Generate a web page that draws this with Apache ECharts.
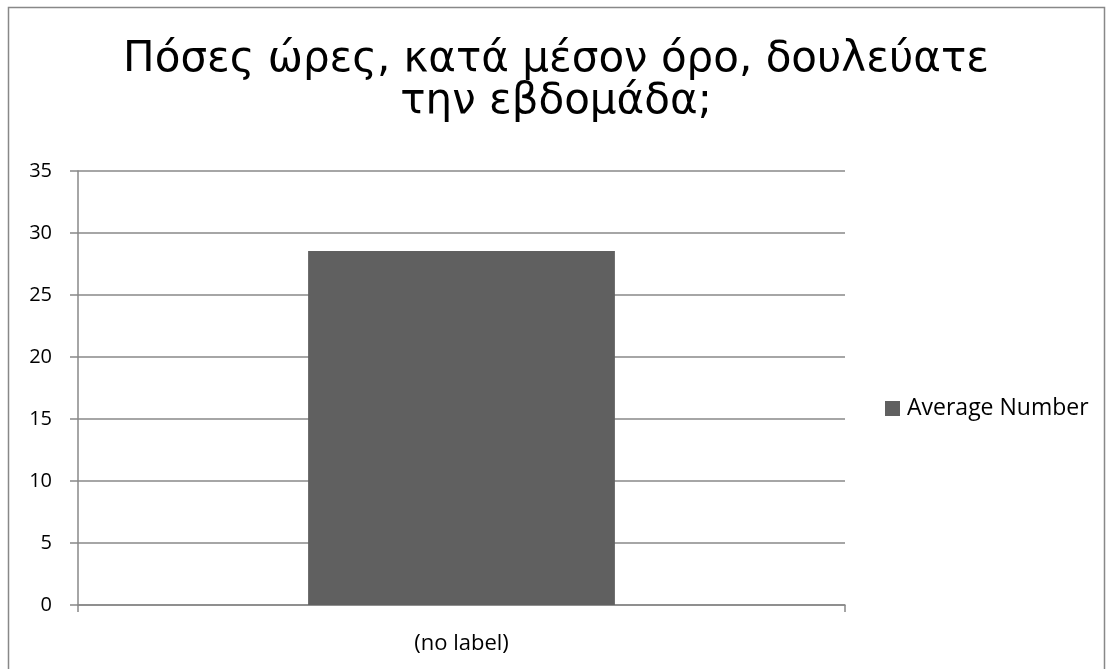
<!DOCTYPE html>
<html><head><meta charset="utf-8">
<script src="https://cdn.jsdelivr.net/npm/echarts@6/dist/echarts.min.js"></script>
<style>html,body{margin:0;padding:0;background:#fff}#c{width:1112px;height:669px}</style>
</head><body><div id="c"></div>
<script>
const titleText = 'Πόσες ώρες, κατά μέσον όρο, δουλεύατε\nτην εβδομάδα;';
const categories = ['(no label)'];
const seriesName = 'Average Number';
const values = [28.55];
const yMin = 0, yMax = 35, yStep = 5;

const chart = echarts.init(document.getElementById('c'), null, {renderer: 'canvas'});
chart.setOption({
  animation: false,
  backgroundColor: '#fff',
  graphic: [{type: 'rect', shape: {x: 8.5, y: 7.5, width: 1096, height: 700}, style: {fill: 'none', stroke: '#888', lineWidth: 1.5}, silent: true}],
  title: {
    text: titleText, left: 'center', top: 34, padding: [5, 5, 5, 19],
    textStyle: {fontFamily: 'DejaVu Sans', fontSize: 42, fontWeight: 'normal', color: '#000', lineHeight: 42}
  },
  legend: {
    data: [seriesName], left: 880, top: 392, icon: 'rect', itemWidth: 15, itemHeight: 15, itemGap: 5,
    textStyle: {fontFamily: 'Open Sans', fontSize: 23, color: '#000', padding: [0,0,0,2]}
  },
  grid: {left: 78, right: 267, top: 171, bottom: 64, containLabel: false},
  xAxis: {
    type: 'category', data: categories,
    axisLine: {lineStyle: {color: '#888', width: 1.5}},
    axisTick: {show: true, alignWithLabel: false, length: 7, lineStyle: {color: '#888', width: 1.5}},
    axisLabel: {fontFamily: 'Open Sans', fontSize: 22, color: '#000', margin: 28}
  },
  yAxis: {
    type: 'value', min: yMin, max: yMax, interval: yStep,
    axisLine: {show: true, lineStyle: {color: '#888', width: 1.5}},
    axisTick: {show: true, length: 8, lineStyle: {color: '#888', width: 1.5}},
    splitLine: {lineStyle: {color: '#888', width: 1.5}},
    axisLabel: {fontFamily: 'Open Sans', fontSize: 20, color: '#000', margin: 26}
  },
  series: [{
    name: seriesName, type: 'bar', data: values, barWidth: '40%',
    itemStyle: {color: '#606060'}
  }]
});
</script></body></html>
